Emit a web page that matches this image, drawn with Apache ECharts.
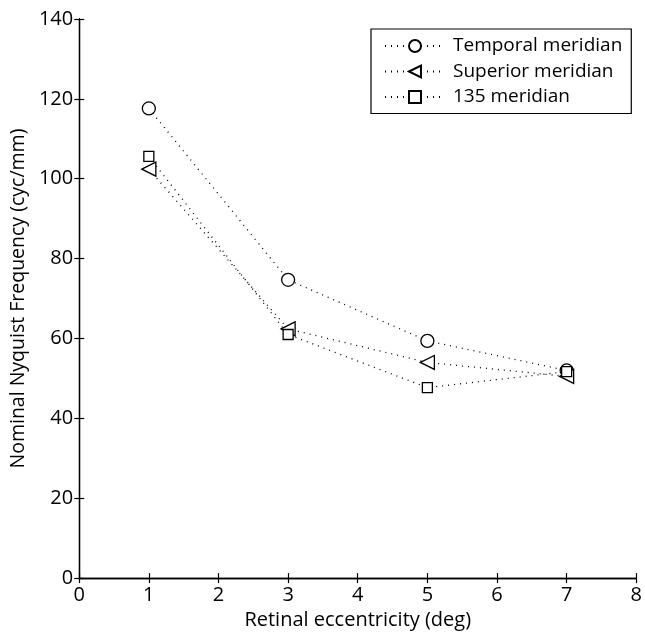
<!DOCTYPE html>
<html>
<head>
<meta charset="utf-8">
<script src="https://cdn.jsdelivr.net/npm/echarts@6/dist/echarts.min.js"></script>
<style>
  html, body { margin: 0; padding: 0; background: #fff; }
  #chart { width: 645px; height: 635px; }
</style>
</head>
<body>
<div id="chart"></div>
<script>
// Retinal eccentricity (deg)
const eccentricity = [1, 3, 5, 7];
// Nominal Nyquist frequency (cyc/mm) per meridian
const temporal = [117.6, 74.7, 59.4, 52.0];
const superior = [102.4, 62.4, 54.0, 50.5];
const meridian135 = [105.6, 61.0, 47.7, 51.7];

const seriesNames = ['Temporal meridian', 'Superior meridian', '135 meridian'];
const FONT = '"Open Sans", "Noto Sans", sans-serif';

function pairs(ys) { return eccentricity.map((x, i) => [x, ys[i]]); }

function lineSeries(name, ys, symbol, size, rotate) {
  return {
    name: name,
    type: 'line',
    data: pairs(ys),
    symbol: symbol,
    symbolSize: size,
    symbolRotate: rotate || 0,
    showAllSymbol: true,
    itemStyle: { color: '#fff', borderColor: '#000', borderWidth: 1.3 },
    lineStyle: { color: '#000', width: 1.3, type: [1, 5] },
    emphasis: { disabled: true },
    z: 3
  };
}

const chart = echarts.init(document.getElementById('chart'), null, { renderer: 'canvas' });

const axisCommon = {
  axisLine: { show: true, lineStyle: { color: '#000', width: 1.3 } },
  axisTick: { show: true, inside: true, length: 5, lineStyle: { color: '#000', width: 1.2 } },
  splitLine: { show: false }
};

chart.setOption({
  animation: false,
  backgroundColor: '#fff',
  grid: { left: 79, right: 8, top: 19, bottom: 54, containLabel: false },
  legend: {
    left: 371, top: 29,
    orient: 'vertical',
    data: seriesNames,
    backgroundColor: '#fff',
    borderColor: '#000', borderWidth: 1.2,
    padding: [7.5, 9, 7, 13],
    itemGap: 6.5,
    itemWidth: 60, itemHeight: 15,
    textStyle: { fontFamily: FONT, fontSize: 19, lineHeight: 19, color: '#000', padding: [0, 0, 0, 3] },
    selectedMode: false
  },
  xAxis: [
    Object.assign({
      type: 'value', min: 0, max: 8, interval: 1,
      name: 'Retinal eccentricity (deg)', nameLocation: 'middle', nameGap: 29,
      nameTextStyle: { fontFamily: FONT, fontSize: 20, color: '#000' },
      axisLabel: { fontFamily: FONT, fontSize: 20, color: '#000', margin: 7 }
    }, axisCommon),
    Object.assign({
      type: 'value', min: 0, max: 8, interval: 1, position: 'top',
      axisLabel: { show: false }
    }, axisCommon)
  ],
  yAxis: [
    Object.assign({
      type: 'value', min: 0, max: 140, interval: 20,
      name: 'Nominal Nyquist Frequency (cyc/mm)', nameLocation: 'middle', nameGap: 51,
      nameTextStyle: { fontFamily: FONT, fontSize: 19.5, color: '#000' },
      axisLabel: { fontFamily: FONT, fontSize: 20, color: '#000', margin: 6 }
    }, axisCommon),
    Object.assign({
      type: 'value', min: 0, max: 140, interval: 20, position: 'right',
      axisLabel: { show: false }
    }, axisCommon)
  ],
  series: [
    lineSeries(seriesNames[0], temporal, 'circle', 13),
    lineSeries(seriesNames[1], superior, 'triangle', 14, 90),
    lineSeries(seriesNames[2], meridian135, 'rect', 10)
  ]
});
</script>
</body>
</html>
